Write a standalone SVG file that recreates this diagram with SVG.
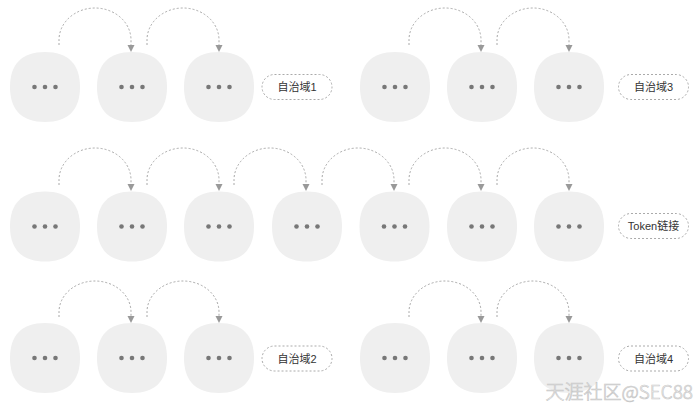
<svg xmlns="http://www.w3.org/2000/svg" width="699" height="411" viewBox="0 0 699 411">
<style>
.n{fill:#efefef}
.d{fill:#777}
.c{fill:none;stroke:#a8a8a8;stroke-width:1;stroke-dasharray:2 2}
.p{fill:#fff;stroke:#aaa;stroke-width:1;stroke-dasharray:2 2}
.t{font-family:"Liberation Sans","Noto Sans CJK SC",sans-serif;font-size:11px;fill:#333;text-anchor:middle}
.w{font-family:"Noto Sans CJK SC",sans-serif;font-size:19px;font-weight:300;fill:#fff;stroke:#c8c8c8;stroke-width:0.7;text-anchor:end}
.ah{fill:#999}
</style>
<defs>
<g id="nd">
<path class="n" d="M0,-35 C23,-35 35,-23 35,0 C35,23 23,35 0,35 C-23,35 -35,23 -35,0 C-35,-23 -23,-35 0,-35 Z"/>
<circle cx="-10.5" cy="0" r="2.3" class="d"/>
<circle cx="0" cy="0" r="2.3" class="d"/>
<circle cx="10.5" cy="0" r="2.3" class="d"/>
</g>
</defs>

<g id="connectors">
<path class="c" d="M59,45 L59,40 A36,32 0 0 1 131,40 L131,45"/>
<path class="c" d="M147,45 L147,40 A36,32 0 0 1 219,40 L219,45"/>
<path class="c" d="M409,45 L409,40 A36,32 0 0 1 481,40 L481,45"/>
<path class="c" d="M497,45 L497,40 A36,32 0 0 1 569,40 L569,45"/>
<path class="c" d="M59,185 L59,180 A36,32 0 0 1 131,180 L131,184"/>
<path class="c" d="M147,185 L147,180 A36,32 0 0 1 219,180 L219,184"/>
<path class="c" d="M234,185 L234,180 A36,32 0 0 1 306,180 L306,184"/>
<path class="c" d="M322,185 L322,180 A36,32 0 0 1 394,180 L394,184"/>
<path class="c" d="M409,185 L409,180 A36,32 0 0 1 481,180 L481,184"/>
<path class="c" d="M497,185 L497,180 A36,32 0 0 1 569,180 L569,184"/>
<path class="c" d="M59,317 L59,312 A36,31 0 0 1 131,312 L131,316"/>
<path class="c" d="M147,317 L147,312 A36,31 0 0 1 219,312 L219,316"/>
<path class="c" d="M409,317 L409,312 A36,31 0 0 1 481,312 L481,316"/>
<path class="c" d="M497,317 L497,312 A36,31 0 0 1 569,312 L569,316"/>
<path class="ah" d="M127.5,45 L134.5,45 L131,52 Z"/>
<path class="ah" d="M215.5,45 L222.5,45 L219,52 Z"/>
<path class="ah" d="M477.5,45 L484.5,45 L481,52 Z"/>
<path class="ah" d="M565.5,45 L572.5,45 L569,52 Z"/>
<path class="ah" d="M127.5,184 L134.5,184 L131,191 Z"/>
<path class="ah" d="M215.5,184 L222.5,184 L219,191 Z"/>
<path class="ah" d="M302.5,184 L309.5,184 L306,191 Z"/>
<path class="ah" d="M390.5,184 L397.5,184 L394,191 Z"/>
<path class="ah" d="M477.5,184 L484.5,184 L481,191 Z"/>
<path class="ah" d="M565.5,184 L572.5,184 L569,191 Z"/>
<path class="ah" d="M127.5,316 L134.5,316 L131,323 Z"/>
<path class="ah" d="M215.5,316 L222.5,316 L219,323 Z"/>
<path class="ah" d="M477.5,316 L484.5,316 L481,323 Z"/>
<path class="ah" d="M565.5,316 L572.5,316 L569,323 Z"/>
</g>

<g id="n1a"><use href="#nd" x="45" y="87"/></g>
<g id="n1b"><use href="#nd" x="132" y="87"/></g>
<g id="n1c"><use href="#nd" x="219" y="87"/></g>
<g id="lab1"><rect class="p" x="262" y="74.5" width="70" height="25" rx="12.5"/><text class="t" x="297" y="91">自治域1</text></g>
<g id="n3a"><use href="#nd" x="395" y="87"/></g>
<g id="n3b"><use href="#nd" x="482" y="87"/></g>
<g id="n3c"><use href="#nd" x="569" y="87"/></g>
<g id="lab3"><rect class="p" x="618.5" y="74.5" width="70" height="25" rx="12.5"/><text class="t" x="653.5" y="91">自治域3</text></g>

<g id="t1"><use href="#nd" x="45" y="226.5"/></g>
<g id="t2"><use href="#nd" x="132" y="226.5"/></g>
<g id="t3"><use href="#nd" x="219" y="226.5"/></g>
<g id="t4"><use href="#nd" x="307" y="226.5"/></g>
<g id="t5"><use href="#nd" x="394.5" y="226.5"/></g>
<g id="t6"><use href="#nd" x="482" y="226.5"/></g>
<g id="t7"><use href="#nd" x="569" y="226.5"/></g>
<g id="labT"><rect class="p" x="618.5" y="213.5" width="70" height="25" rx="12.5"/><text class="t" x="653.5" y="230">Token链接</text></g>

<g id="n2a"><use href="#nd" x="45" y="358"/></g>
<g id="n2b"><use href="#nd" x="132" y="358"/></g>
<g id="n2c"><use href="#nd" x="219" y="358"/></g>
<g id="lab2"><rect class="p" x="262" y="346" width="70" height="25" rx="12.5"/><text class="t" x="297" y="362.5">自治域2</text></g>
<g id="n4a"><use href="#nd" x="395" y="358"/></g>
<g id="n4b"><use href="#nd" x="482" y="358"/></g>
<g id="n4c"><use href="#nd" x="569" y="358"/></g>
<g id="lab4"><rect class="p" x="618.5" y="346" width="70" height="25" rx="12.5"/><text class="t" x="653.5" y="362.5">自治域4</text></g>

<text class="w" x="693" y="399">天涯社区@SEC88</text>
</svg>
